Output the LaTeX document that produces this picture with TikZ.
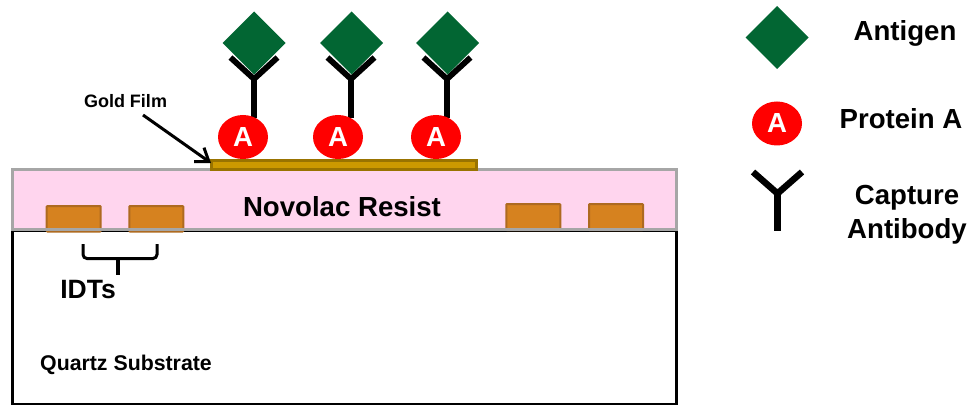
\documentclass[tikz,border=0pt]{standalone}
\usepackage{fontspec}
\setmainfont{Liberation Sans}
\usetikzlibrary{shapes.geometric,arrows.meta}
\definecolor{agreen}{HTML}{026633}
\definecolor{pinkres}{HTML}{FFD5EE}
\definecolor{edgegray}{HTML}{A6A6A6}
\definecolor{idtfill}{HTML}{D6821F}
\definecolor{idtedge}{HTML}{AE6A20}
\definecolor{goldfill}{HTML}{CC9900}
\definecolor{goldedge}{HTML}{997300}
\tikzset{
  x=1pt,y=-1pt,
  every node/.style={inner sep=0pt,outer sep=0pt,font=\bfseries},
  antigen/.style={diamond,aspect=1,fill=agreen,minimum width=63pt,minimum height=63pt},
  proteinA/.style={ellipse,fill=red,text=white,minimum width=50pt,minimum height=44pt,font=\fontsize{27.6}{30}\selectfont\bfseries},
  idt/.style={draw=idtedge,fill=idtfill,line width=2pt,rounded corners=0.8pt,anchor=north west,minimum width=54pt},
  biglabel/.style={font=\fontsize{27.6}{30}\selectfont\bfseries},
  antibody/.style={line width=5.8pt,black},
  capture/.pic={
    \draw[antibody,line join=miter] (-23.5,-21.5) -- (0,0) -- (23.5,-21.5);
    \draw[antibody] (0,-1) -- (0,39);
  }
}
\begin{document}
\begin{tikzpicture}
\useasboundingbox (0,0) rectangle (971,406);
% layers
\node[draw=black,line width=2.6pt,fill=white,anchor=north west,minimum width=664pt,minimum height=173pt] (quartz) at (12.5,231) {};
\node[fill=pinkres,anchor=north west,minimum width=664pt,minimum height=60.5pt] (resistfill) at (12.5,169.7) {};
\node[idt,minimum height=25.5pt] (e1) at (46.7,206) {};
\node[idt,minimum height=25.5pt] (e2) at (129.3,206) {};
\node[idt,minimum height=26pt] (e3) at (506.3,204) {};
\node[idt,minimum height=26pt] (e4) at (589,204) {};
\node[draw=edgegray,line width=2.7pt,anchor=north west,minimum width=664pt,minimum height=60pt] (resist) at (12.5,169.7) {};
\node[draw=goldedge,fill=goldfill,line width=2.8pt,anchor=north west,minimum width=265pt,minimum height=9pt] (gold) at (211.5,160.8) {};
\node[biglabel] (novolac) at (342,207) {Novolac Resist};
\node[font=\fontsize{21.3}{25}\selectfont\bfseries] (quartzlabel) at (126,365) {Quartz Substrate};
\node[font=\fontsize{26.5}{28}\selectfont\bfseries] (idts) at (88,290) {IDTs};
% brace
\draw[line width=3pt,rounded corners=4pt] (83,244) -- (83,258.5) -- (157,258.5) -- (157,244);
\draw[line width=3.5pt] (118,258.5) -- (118,275);
% gold label and arrow
\node[font=\fontsize{18}{20}\selectfont\bfseries] (goldlabel) at (125.5,101) {Gold Film};
\coordinate (arrowtail) at (143,115);
\coordinate (arrowtip) at (211,163);
\draw[line width=3pt,-{Straight Barb[length=12pt,width=17pt,line width=3pt]}] (arrowtail) -- (arrowtip);
% bio stacks
\pic at (254,79) {capture};
\pic at (351,79) {capture};
\pic at (447,79) {capture};
\node[antigen] (ag1) at (254,43) {};
\node[antigen] (ag2) at (351.5,43) {};
\node[antigen] (ag3) at (447.5,43) {};
\node[proteinA] (pa1) at (243,137) {A};
\node[proteinA] (pa2) at (338,137) {A};
\node[proteinA] (pa3) at (436,137) {A};
% legend
\node[antigen] (legag) at (777,37.5) {};
\node[proteinA] (legpa) at (777,123.5) {A};
\draw[line width=6.5pt,line join=miter] (753,172) -- (777.5,193.5) -- (802,172);
\draw[line width=6.5pt] (777.5,193) -- (777.5,231);
\node[biglabel] (antigenlabel) at (905,33) {Antigen};
\node[biglabel] (protlabel) at (901,119) {Protein A};
\node[biglabel] (caplabel) at (907,198) {Capture};
\node[biglabel] (ablabel) at (907,231) {Antibody};
\end{tikzpicture}
\end{document}
